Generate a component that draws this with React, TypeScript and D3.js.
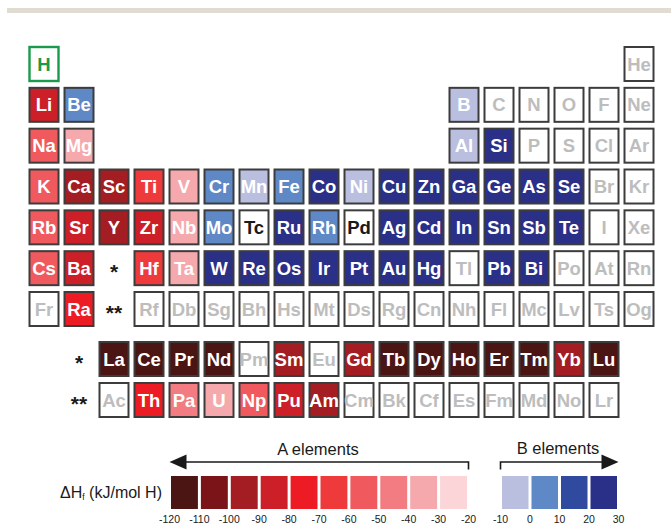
import React from "react";
import * as d3 from "d3";

// ---------- DATA ----------
const tableRows: string[][] = [
  ["H", "", "", "", "", "", "", "", "", "", "", "", "", "", "", "", "", "He"],
  ["Li", "Be", "", "", "", "", "", "", "", "", "", "", "B", "C", "N", "O", "F", "Ne"],
  ["Na", "Mg", "", "", "", "", "", "", "", "", "", "", "Al", "Si", "P", "S", "Cl", "Ar"],
  ["K", "Ca", "Sc", "Ti", "V", "Cr", "Mn", "Fe", "Co", "Ni", "Cu", "Zn", "Ga", "Ge", "As", "Se", "Br", "Kr"],
  ["Rb", "Sr", "Y", "Zr", "Nb", "Mo", "Tc", "Ru", "Rh", "Pd", "Ag", "Cd", "In", "Sn", "Sb", "Te", "I", "Xe"],
  ["Cs", "Ba", "*", "Hf", "Ta", "W", "Re", "Os", "Ir", "Pt", "Au", "Hg", "Tl", "Pb", "Bi", "Po", "At", "Rn"],
  ["Fr", "Ra", "**", "Rf", "Db", "Sg", "Bh", "Hs", "Mt", "Ds", "Rg", "Cn", "Nh", "Fl", "Mc", "Lv", "Ts", "Og"],
];
const fBlockRows: string[][] = [
  ["", "*", "La", "Ce", "Pr", "Nd", "Pm", "Sm", "Eu", "Gd", "Tb", "Dy", "Ho", "Er", "Tm", "Yb", "Lu", ""],
  ["", "**", "Ac", "Th", "Pa", "U", "Np", "Pu", "Am", "Cm", "Bk", "Cf", "Es", "Fm", "Md", "No", "Lr", ""],
];

// formation enthalpy of the hydride (kJ/mol H), estimated from the colour bins
const hydrideSymbols = [
  "Li", "Be", "Na", "Mg", "K", "Ca", "Sc", "Ti", "V", "Cr", "Mn", "Fe", "Co", "Ni", "Cu", "Zn",
  "Ga", "Ge", "As", "Se", "B", "Al", "Si",
  "Rb", "Sr", "Y", "Zr", "Nb", "Mo", "Tc", "Ru", "Rh", "Pd", "Ag", "Cd", "In", "Sn", "Sb", "Te",
  "Cs", "Ba", "Hf", "Ta", "W", "Re", "Os", "Ir", "Pt", "Au", "Hg", "Pb", "Bi",
  "Ra",
  "La", "Ce", "Pr", "Nd", "Sm", "Gd", "Tb", "Dy", "Ho", "Er", "Tm", "Yb", "Lu",
  "Th", "Pa", "U", "Np", "Pu", "Am",
];
const hydrideEnthalpy = [
  -85, 5, -56, -37, -57, -91, -95, -65, -35, 5, -5, 5, 25, -5, 25, 25,
  25, 25, 25, 25, -5, -5, 25,
  -55, -86, -96, -84, -35, 5, -15, 25, 5, -15, 25, 25, 25, 25, 25, 25,
  -55, -86, -65, -35, 25, 25, 25, 25, 25, 25, 25, 25, 25,
  -75,
  -115, -115, -115, -115, -95, -95, -115, -115, -115, -115, -115, -95, -115,
  -75, -45, -35, -55, -85, -95,
];

const binThresholds = [-110, -100, -90, -80, -70, -60, -50, -40, -30, -20, -10, 0, 10, 20];
const aColors = ["#4a1512", "#7b1418", "#a31d22", "#cc1f27", "#ed1c24", "#ee3a3b", "#f05a5e", "#f27c81", "#f6a9ad", "#fbd5d7"];
const bColors = ["#babfe0", "#5f88c6", "#2f4a9e", "#2a2f88"];
const aTicks = [-120, -110, -100, -90, -80, -70, -60, -50, -40, -30, -20];
const bTicks = [-10, 0, 10, 20, 30];

// ---------- LAYOUT ----------
const W = 671, H = 524;
const cellW = 31, cellH = 36;
const colX = d3.scaleLinear().domain([0, 17]).range([28.5, 623.5]);
const rowY = d3.scaleLinear().domain([0, 6]).range([46, 291]);
const fRowY = d3.scaleLinear().domain([0, 1]).range([341, 382]);
const legendA = d3.scaleLinear().domain([-120, -20]).range([169.5, 468.5]);
const legendB = d3.scaleLinear().domain([-10, 30]).range([500.5, 618.5]);

const colorScale = d3.scaleThreshold<number, string>()
  .domain(binThresholds)
  .range([...aColors, "#ffffff", ...bColors]);

const valueOf = new Map<string, number>(hydrideSymbols.map((s, i) => [s, hydrideEnthalpy[i]]));

const font = "Liberation Sans, Arial, Helvetica, sans-serif";

function Cell({ sym, x, y }: { sym: string; x: number; y: number }) {
  if (!sym) return null;
  if (sym === "*" || sym === "**") {
    return (
      <text x={x + cellW / 2} y={y + cellH / 2 + 11} textAnchor="middle" fontFamily={font}
        fontWeight="bold" fontSize={21} fill="#1a1a1a">{sym}</text>
    );
  }
  const v = valueOf.get(sym);
  const isH = sym === "H";
  let fill = "#ffffff";
  let txt = "#bdbdbd";
  if (isH) { txt = "#1a9a4c"; }
  else if (v !== undefined) {
    fill = colorScale(v);
    txt = v >= -20 && v < -10 ? "#1a1a1a" : "#ffffff";
  }
  return (
    <g>
      <rect x={x + 1} y={y + 1} width={cellW - 2} height={cellH - 2} fill={fill}
        stroke={isH ? "#1a9a4c" : "#3c3c3c"} strokeWidth={isH ? 2.4 : 2} />
      <text x={x + cellW / 2} y={y + cellH / 2 + 6.6} textAnchor="middle" fontFamily={font}
        fontWeight="bold" fontSize={18.5} fill={txt}>{sym}</text>
    </g>
  );
}

export default function App() {
  const aBins = d3.range(aColors.length).map((i) => [aTicks[i], aTicks[i + 1]]);
  const bBins = d3.range(bColors.length).map((i) => [bTicks[i], bTicks[i + 1]]);
  const arrowY = 462;
  return (
    <svg width={W} height={H} style={{ position: "absolute", left: 0, top: 0 }}
      xmlns="http://www.w3.org/2000/svg">
      <rect width={W} height={H} fill="#ffffff" />
      <rect x={7} y={8} width={W - 7} height={5} fill="#e0dcd1" />
      {tableRows.map((row, r) =>
        row.map((s, c) => <Cell key={`m${r}-${c}`} sym={s} x={colX(c)} y={rowY(r)} />)
      )}
      {fBlockRows.map((row, r) =>
        row.map((s, c) => <Cell key={`f${r}-${c}`} sym={s} x={colX(c)} y={fRowY(r)} />)
      )}

      {/* legend */}
      <text x={162} y={498} textAnchor="end" fontFamily={font} fontSize={16} fill="#1a1a1a">
        ΔH<tspan fontSize={8.5} dy={2}>f</tspan><tspan dy={-2}> (kJ/mol H)</tspan>
      </text>
      {aBins.map(([a, b], i) => (
        <rect key={`a${i}`} x={legendA(a) + 1.5} y={476} width={legendA(b) - legendA(a) - 3} height={33} fill={aColors[i]} />
      ))}
      {bBins.map(([a, b], i) => (
        <rect key={`b${i}`} x={legendB(a) + 1.5} y={476} width={legendB(b) - legendB(a) - 3} height={33} fill={bColors[i]} />
      ))}
      {aTicks.map((t) => (
        <text key={`at${t}`} x={legendA(t)} y={522.5} textAnchor="middle" fontFamily={font} fontSize={10.5} fill="#1a1a1a">{t}</text>
      ))}
      {bTicks.map((t) => (
        <text key={`bt${t}`} x={legendB(t)} y={522.5} textAnchor="middle" fontFamily={font} fontSize={10.5} fill="#1a1a1a">{t}</text>
      ))}

      {/* A arrow */}
      <path d={`M${legendA(-120) + 16},${arrowY} H${legendA(-20)} V${arrowY + 7.5}`} fill="none" stroke="#1a1a1a" strokeWidth={1.6} />
      <path d={`M${legendA(-120)},${arrowY} L${legendA(-120) + 17},${arrowY - 7.5} L${legendA(-120) + 17},${arrowY + 7.5} Z`} fill="#1a1a1a" />
      <text x={318} y={455} textAnchor="middle" fontFamily={font} fontSize={16.5} fill="#1a1a1a">A elements</text>

      {/* B arrow */}
      <path d={`M${legendB(-10)},${arrowY + 7.5} V${arrowY} H${legendB(30) - 16}`} fill="none" stroke="#1a1a1a" strokeWidth={1.6} />
      <path d={`M${legendB(30)},${arrowY} L${legendB(30) - 17},${arrowY - 7.5} L${legendB(30) - 17},${arrowY + 7.5} Z`} fill="#1a1a1a" />
      <text x={558} y={454} textAnchor="middle" fontFamily={font} fontSize={16.5} fill="#1a1a1a">B elements</text>
    </svg>
  );
}
